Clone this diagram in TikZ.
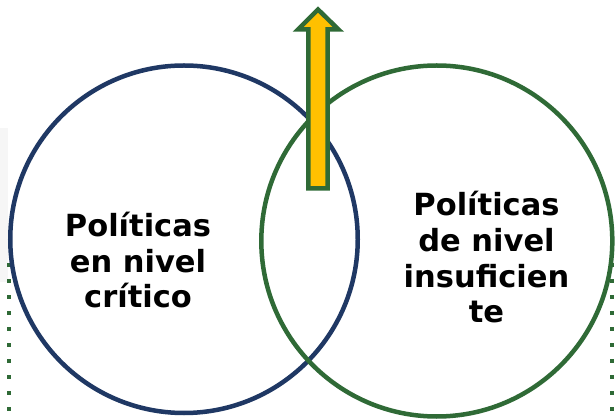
\documentclass[tikz,border=0pt]{standalone}
\usepackage{fontspec}
\setmainfont{DejaVu Sans}
\definecolor{navyc}{HTML}{1F3864}
\definecolor{greenc}{HTML}{2F6A36}
\definecolor{goldc}{HTML}{FFC000}
\definecolor{panelc}{HTML}{F6F6F6}
\tikzset{
  ring/.style={line width=4.5pt},
  dotsq/.style={fill=greenc, draw=none, minimum size=4pt, inner sep=0pt, rectangle},
  label/.style={font=\bfseries\fontsize{30.5}{35.5}\selectfont, align=center, inner sep=0pt, anchor=base},
  uparrow/.style={draw=greenc, fill=goldc, line width=4.5pt, line join=miter}
}
\begin{document}
\begin{tikzpicture}[x=1pt,y=-1pt]
\useasboundingbox (0,0) rectangle (615,419);
\fill[white] (0,0) rectangle (615,419);
\fill[panelc] (0,128) rectangle (8,282);
% dotted guides
\foreach \i in {0,...,9}{
  \node[dotsq] (dl\i) at (9,265+16*\i) {};
  \node[dotsq] (dr\i) at (611.5,265+16*\i) {};
}
% circles
\node[ring, draw=navyc, circle, minimum size=347.5pt, inner sep=0pt] (left) at (184,239.25) {};
\node[ring, draw=greenc, circle, minimum size=351pt, inner sep=0pt] (right) at (436.8,241) {};
% labels (anchor = baseline of last line)
\node[label] (lt) at (138,308) {Políticas\\en nivel\\crítico};
\node[label] (rt) at (486.5,322.5) {Políticas\\de nivel\\insuficien\\te};
% arrow
\draw[uparrow] (318,9.5) -- (338.5,29.5) -- (327.7,29.5) -- (327.7,188.5)
  -- (308.3,188.5) -- (308.3,29.5) -- (298,29.5) -- cycle;
\end{tikzpicture}
\end{document}
